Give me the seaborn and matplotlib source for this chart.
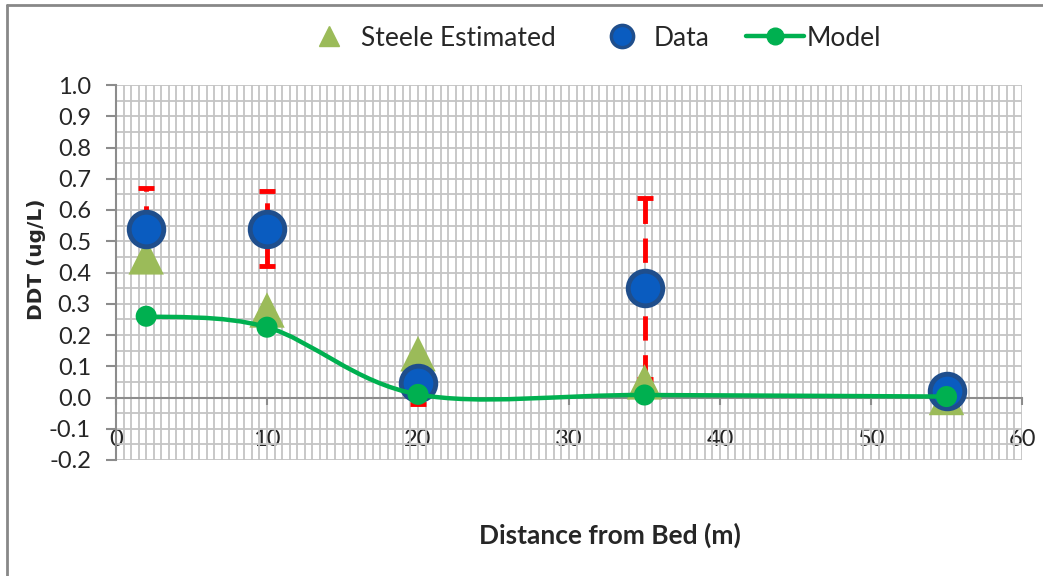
import numpy as np
import pandas as pd
import matplotlib
matplotlib.use("Agg")
import matplotlib.pyplot as plt
import seaborn as sns
from matplotlib.path import Path
from matplotlib.patches import PathPatch
from matplotlib.lines import Line2D
from matplotlib.ticker import MultipleLocator

# ---- data ----
distance = [2, 10, 20, 35, 55]
ddt_data = [0.54, 0.54, 0.045, 0.35, 0.02]
ddt_err = [0.13, 0.12, 0.065, 0.29, 0.0]
steele_est = [0.45, 0.28, 0.14, 0.05, 0.0]
model = [0.26, 0.225, 0.01, 0.008, 0.003]

df = pd.DataFrame({"Distance": distance, "Data": ddt_data, "Err": ddt_err,
                   "Steele": steele_est, "Model": model})

sns.set_theme(style="white")
plt.rcParams["font.family"] = ["Lato", "DejaVu Sans"]

fig = plt.figure(figsize=(10.43, 5.76), dpi=100)
ax = fig.add_axes([116 / 1043, 1 - 460 / 576, (1022 - 116) / 1043, (460 - 85) / 576])

# grid like the Excel chart
ax.set_xlim(0, 60)
ax.set_ylim(-0.2, 1.0)
ax.xaxis.set_major_locator(MultipleLocator(10))
ax.xaxis.set_minor_locator(MultipleLocator(0.5))
ax.yaxis.set_major_locator(MultipleLocator(0.1))
ax.yaxis.set_minor_locator(MultipleLocator(0.05))
ax.grid(which="both", color="#c4c4c4", linewidth=1.3)
ax.set_axisbelow(True)

for s in ["top", "right"]:
    ax.spines[s].set_visible(False)
ax.spines["bottom"].set_position(("data", 0))
ax.spines["bottom"].set_color("#8c8c8c")
ax.spines["left"].set_color("#8c8c8c")
ax.spines["bottom"].set_linewidth(1.5)
ax.spines["left"].set_linewidth(1.5)

# error bars (red dashed)
err = ax.errorbar(df["Distance"], df["Data"], yerr=df["Err"], fmt="none",
                  ecolor="#ff0000", elinewidth=3.5, capsize=6, capthick=3.5, zorder=3)
err[2][0].set_linestyle((0, (5, 3)))

# Steele estimated triangles
sns.scatterplot(data=df, x="Distance", y="Steele", marker="^", s=650,
                color="#9bbb59", edgecolor="none", ax=ax, zorder=4, legend=False)

# Data circles
sns.scatterplot(data=df, x="Distance", y="Data", marker="o", s=620,
                color="#0a5cc0", edgecolor="#1f4e8c", linewidth=3.5,
                ax=ax, zorder=5, legend=False)

# Model: smoothed line (Excel-style bezier) with markers
pts = np.column_stack([df["Distance"], df["Model"]])
ext = np.vstack([pts[0], pts, pts[-1]])
verts = [tuple(pts[0])]
codes = [Path.MOVETO]
for i in range(len(pts) - 1):
    p0, p1, p2, p3 = ext[i], ext[i + 1], ext[i + 2], ext[i + 3]
    c1 = p1 + (p2 - p0) / 6
    c2 = p2 - (p3 - p1) / 6
    verts += [tuple(c1), tuple(c2), tuple(p2)]
    codes += [Path.CURVE4] * 3
ax.add_patch(PathPatch(Path(verts, codes), facecolor="none", edgecolor="#00b050",
                       linewidth=3.2, zorder=6))
sns.scatterplot(data=df, x="Distance", y="Model", marker="o", s=230,
                color="#00b050", edgecolor="none", ax=ax, zorder=7, legend=False)

ax.set_xlabel("")
ax.set_ylabel("")
ax.tick_params(axis="y", which="major", direction="out", length=7, width=1.5,
               color="#8c8c8c", labelsize=17, pad=11, left=True)
ax.tick_params(axis="x", which="major", direction="out", length=5, width=1.5,
               color="#8c8c8c", labelsize=17, pad=18, bottom=True)
ax.tick_params(which="minor", length=0)
ax.set_yticks(np.round(np.arange(-0.2, 1.01, 0.1), 1))
ax.set_yticklabels([f"{v:.1f}" for v in np.round(np.arange(-0.2, 1.01, 0.1), 1)])

fig.text(37 / 1043, 1 - 259 / 576, "DDT (ug/L)", rotation=90, ha="center", va="center",
         fontsize=14.5, fontweight="bold", family="DejaVu Sans")
fig.text(610 / 1043, 1 - 535 / 576, "Distance from Bed (m)", ha="center", va="center",
         fontsize=19, fontweight="bold")

# legend
handles = [
    Line2D([], [], marker="^", linestyle="none", color="#9bbb59", markersize=14),
    Line2D([], [], marker="o", linestyle="none", color="#0a5cc0",
           markeredgecolor="#1f4e8c", markeredgewidth=2.5, markersize=16),
    Line2D([], [], marker="o", linestyle="-", color="#00b050", linewidth=3.2, markersize=12),
]
fig.legend(handles, ["Steele Estimated", "Data", "Model"], loc="center",
           bbox_to_anchor=(591 / 1043, 1 - 38 / 576), ncol=3, frameon=False,
           fontsize=19, handlelength=2.2, columnspacing=1.4, handletextpad=0.1)

# outer chart border (left and top only visible)
fig.add_artist(Line2D([7 / 1043, 7 / 1043], [0, 1 - 5 / 576], transform=fig.transFigure,
                      color="#888888", linewidth=2))
fig.add_artist(Line2D([7 / 1043, 1], [1 - 5 / 576, 1 - 5 / 576], transform=fig.transFigure,
                      color="#888888", linewidth=2))

fig.savefig("out.png", dpi=100)
